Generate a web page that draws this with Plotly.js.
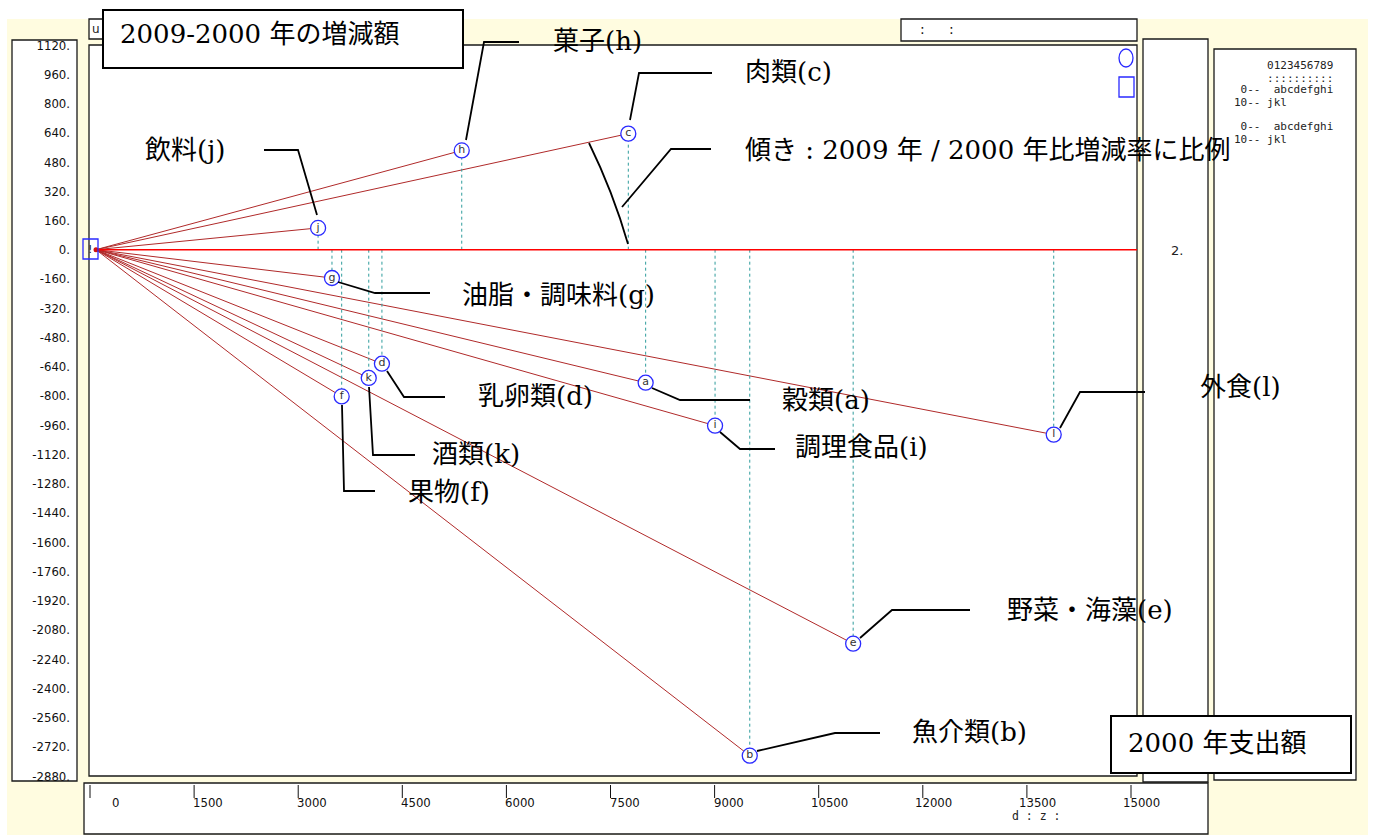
<!DOCTYPE html>
<html><head><meta charset="utf-8">
<script src="https://cdn.plot.ly/plotly-3.0.1.min.js"></script>
<style>html,body{margin:0;padding:0;background:#fff;overflow:hidden}#chart{width:1375px;height:835px}</style>
</head><body><div id="chart"></div>
<script>
// ---- data ----
const letters   = ['a','b','c','d','e','f','g','h','i','j','k','l'];
const names     = ['穀類','魚介類','肉類','乳卵類','野菜・海藻','果物','油脂・調味料','菓子','調理食品','飲料','酒類','外食'];
const spend2000 = [7920, 9420, 7670, 4120, 10910, 3540, 3400, 5270, 8920, 3200, 3930, 13800];
const change    = [-728, -2769, 635, -624, -2156, -803, -155, 543, -963, 119, -702, -1012];
const yTicks = [1120, 960, 800, 640, 480, 320, 160, 0, -160, -320, -480, -640, -800, -960,
                -1120, -1280, -1440, -1600, -1760, -1920, -2080, -2240, -2400, -2560, -2720, -2880];
const xTicks = [0, 1500, 3000, 4500, 6000, 7500, 9000, 10500, 12000, 13500, 15000];
const titleText = '2009-2000 年の増減額';
const xTitleText = '2000 年支出額';
const slopeNote = '傾き : 2009 年 / 2000 年比増減率に比例';

// ---- layout helpers (pixel -> paper) ----
const L = 89, R = 1137, T = 45, B = 776;
const PX = p => (p - L) / (R - L);
const PY = p => (B - p) / (B - T);
const pt = (x, y) => PX(x).toFixed(5) + ',' + PY(y).toFixed(5);

const serif = 'DejaVu Serif, Noto Sans CJK JP, serif';
const narrow = 'Liberation Sans Narrow, DejaVu Sans Condensed, Liberation Sans, sans-serif';
const mono = 'DejaVu Sans Mono, Liberation Mono, monospace';

// label placement (left x, center y) and leader polylines, in pixels
const labelPos = {
  h: [553, 41,  [[466,140],[484,42],[519,42]]],
  c: [745, 72,  [[630,120],[639,73],[712,73]]],
  j: [145, 150, [[264,150],[298,150],[317,215]]],
  g: [462, 295, [[338,282],[375,293],[430,293]]],
  d: [478, 396, [[387,371],[404,397],[445,397]]],
  a: [782, 400, [[652,388],[680,400],[750,400]]],
  l: [1200, 387,[[1060,428],[1080,392],[1145,392]]],
  i: [795, 447, [[720,432],[740,449],[775,449]]],
  k: [432, 454, [[369,387],[373,455],[415,455]]],
  f: [408, 492, [[342,405],[344,491],[375,491]]],
  e: [1007, 610,[[860,638],[892,610],[970,610]]],
  b: [912, 732, [[757,751],[835,733],[880,733]]]
};

// ---- traces ----
const rayX = [], rayY = [], dashX = [], dashY = [];
spend2000.forEach((s, i) => {
  rayX.push(0, s, null); rayY.push(0, change[i], null);
  dashX.push(s, s, null); dashY.push(0, change[i], null);
});
const traces = [
  {x: rayX, y: rayY, mode: 'lines', line: {color: '#b02a2a', width: 1}, hoverinfo: 'skip', showlegend: false},
  {x: dashX, y: dashY, mode: 'lines', line: {color: '#2e9c9c', width: 1, dash: '3px,3px'}, hoverinfo: 'skip', showlegend: false},
  {x: [0, xTicks[xTicks.length - 1]], y: [0, 0], mode: 'lines', line: {color: '#ff0000', width: 1.5}, hoverinfo: 'skip', showlegend: false},
  {x: [0], y: [0], mode: 'markers', marker: {color: '#d01010', size: 5}, hoverinfo: 'skip', showlegend: false},
  {x: spend2000, y: change, mode: 'markers+text', text: letters, textposition: 'middle center',
   textfont: {family: 'DejaVu Sans, sans-serif', size: 11, color: '#333'},
   marker: {symbol: 'circle', size: 15, color: '#ffffff', line: {color: '#2a2aff', width: 1.3}},
   hoverinfo: 'skip', showlegend: false}
];

// ---- shapes ----
const rectPx = (x0, y0, x1, y1, extra) => Object.assign({type: 'rect', xref: 'paper', yref: 'paper',
  x0: PX(x0), x1: PX(x1), y0: PY(y1), y1: PY(y0), layer: 'below',
  fillcolor: '#ffffff', line: {color: '#1a1a1a', width: 1.3}}, extra || {});
const shapes = [
  rectPx(7, 19, 1368, 835, {fillcolor: '#fffce0', line: {width: 0}}),
  rectPx(12, 40, 77, 781),
  rectPx(89, 19, 130, 39),
  rectPx(901, 19, 1137, 41),
  rectPx(89, 45, 1137, 776),
  rectPx(1143, 39, 1208, 782),
  rectPx(1214, 49, 1356, 780),
  rectPx(84, 783, 1208, 834),
  // origin box
  rectPx(83, 239, 98, 259, {fillcolor: 'rgba(0,0,0,0)', line: {color: '#2a2aff', width: 1.3}, layer: 'above'}),
  // legend symbols
  {type: 'circle', xref: 'paper', yref: 'paper', x0: PX(1119), x1: PX(1133), y0: PY(67), y1: PY(49),
   line: {color: '#2a2aff', width: 1.3}},
  rectPx(1119, 77, 1134, 97, {fillcolor: 'rgba(0,0,0,0)', line: {color: '#2a2aff', width: 1.3}, layer: 'above'}),
  // title boxes
  rectPx(103, 10, 463, 68, {layer: 'above', line: {color: '#000', width: 2}}),
  rectPx(1111, 716, 1351, 773, {layer: 'above', line: {color: '#000', width: 2}}),
  // slope arc and its leader
  {type: 'path', xref: 'paper', yref: 'paper', path: 'M' + pt(589,143) + ' Q' + pt(613,192) + ' ' + pt(628,244),
   line: {color: '#000', width: 1.8}},
  {type: 'path', xref: 'paper', yref: 'paper', path: 'M' + pt(622,207) + ' L' + pt(671,149) + ' L' + pt(711,149),
   line: {color: '#000', width: 1.8}}
];
letters.forEach(k => {
  const pts = labelPos[k][2];
  shapes.push({type: 'path', xref: 'paper', yref: 'paper',
    path: 'M' + pts.map(p => pt(p[0], p[1])).join(' L'), line: {color: '#000', width: 1.8}});
});
// bottom axis ticks
xTicks.forEach(v => {
  shapes.push({type: 'line', xref: 'x', xsizemode: 'pixel', xanchor: v, x0: -6, x1: -6,
    yref: 'paper', y0: PY(785), y1: PY(798), line: {color: '#111', width: 1}});
});

// ---- annotations ----
const ann = (x, y, text, font, extra) => Object.assign({xref: 'paper', yref: 'paper', x: PX(x), y: PY(y),
  text: text, showarrow: false, xanchor: 'left', yanchor: 'middle', font: font}, extra || {});
const bigFont = {family: serif, size: 26, color: '#000'};
const smallMono = {family: mono, size: 11, color: '#222'};
const annotations = [
  ann(118, 34, titleText, bigFont),
  ann(1126, 743, xTitleText, bigFont),
  ann(743, 150, slopeNote, bigFont),
  ann(96, 29, 'u', {family: 'DejaVu Sans, sans-serif', size: 12, color: '#222'}, {xanchor: 'center'}),
  ann(922, 29, ':', {family: 'DejaVu Sans, sans-serif', size: 14, color: '#111'}, {xanchor: 'center'}),
  ann(951, 29, ':', {family: 'DejaVu Sans, sans-serif', size: 14, color: '#111'}, {xanchor: 'center'}),
  ann(1177, 250, '2.', {family: 'DejaVu Sans, sans-serif', size: 13, color: '#222'}, {xanchor: 'center'}),
  ann(90, 249, '!', {family: 'DejaVu Sans, sans-serif', size: 11, color: '#222'}, {xanchor: 'center'}),
  ann(1232, 66, '     0123456789', smallMono),
  ann(1232, 78, '     ::::::::::', smallMono),
  ann(1232, 89.5, ' 0--  abcdefghi', smallMono),
  ann(1232, 102.5, '10-- jkl', smallMono),
  ann(1232, 126, ' 0--  abcdefghi', smallMono),
  ann(1232, 139, '10-- jkl', smallMono),
  ann(1010, 816, 'd : z :', {family: mono, size: 11.5, color: '#222'})
];
letters.forEach((k, i) => {
  const p = labelPos[k];
  annotations.push(ann(p[0] - 2, p[1], names[i] + '(' + k + ')', bigFont));
});
xTicks.forEach(v => {
  annotations.push({xref: 'x', yref: 'paper', x: v, y: PY(802), xanchor: 'right', yanchor: 'middle',
    xshift: 25, text: String(v), showarrow: false, font: {family: narrow, size: 13, color: '#111'}});
});

const layout = {
  width: 1375, height: 835,
  margin: {l: L, r: 1375 - R, t: T, b: 835 - B, pad: 0},
  paper_bgcolor: '#ffffff', plot_bgcolor: '#ffffff',
  showlegend: false,
  xaxis: {range: [-101, 15000], showgrid: false, zeroline: false, showticklabels: false, ticks: '',
          showline: false, automargin: false, fixedrange: true},
  yaxis: {range: [-2880, 1120], showgrid: false, zeroline: false, ticks: '', showline: false,
          tickvals: yTicks, ticktext: yTicks.map(v => v + '.'), ticklabelstandoff: 18,
          tickfont: {family: narrow, size: 13, color: '#111'}, automargin: false, fixedrange: true},
  shapes: shapes,
  annotations: annotations
};
Plotly.newPlot('chart', traces, layout, {displayModeBar: false, staticPlot: true});
</script>
</body></html>
